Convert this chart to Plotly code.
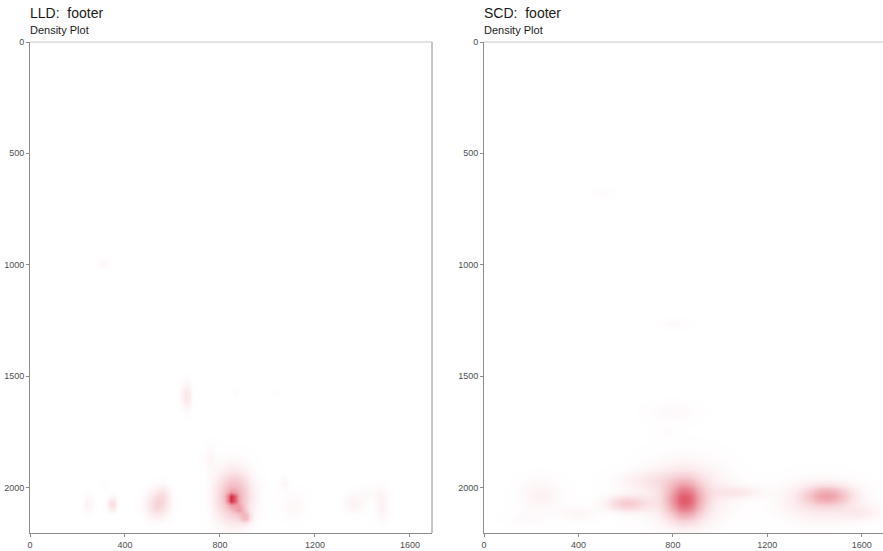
import numpy as np
import plotly.graph_objects as go

# ---- data: density clusters (centre x, centre y, relative peak, spread x, spread y)
lld_cx = [850, 856, 905, 880, 345, 535, 560, 244, 657, 758, 1069, 1109, 1361, 1481, 1430, 309, 309, 863, 1040]
lld_cy = [2050, 2040, 2132, 2095, 2075, 2075, 2030, 2075, 1590, 1870, 1981, 2080, 2072, 2082, 2027, 993, 1990, 1577, 1577]
lld_pk = [1.00, 0.50, 0.35, 0.30, 0.26, 0.26, 0.10, 0.08, 0.16, 0.06, 0.07, 0.05, 0.08, 0.09, 0.04, 0.06, 0.03, 0.03, 0.02]
lld_sx = [14, 48, 16, 14, 12, 32, 18, 14, 14, 18, 14, 35, 30, 18, 40, 15, 12, 12, 12]
lld_sy = [16, 75, 16, 14, 20, 40, 30, 28, 40, 40, 18, 40, 28, 50, 20, 15, 12, 12, 12]

scd_cx = [850, 850, 1455, 1420, 605, 237, 1070, 393, 1590, 800, 774, 715, 498, 803, 180]
scd_cy = [2057, 2030, 2035, 2062, 2071, 2035, 2020, 2116, 2112, 1662, 1752, 1967, 674, 1263, 2140]
scd_pk = [1.00, 0.28, 0.55, 0.20, 0.38, 0.10, 0.16, 0.07, 0.12, 0.05, 0.03, 0.12, 0.03, 0.04, 0.04]
scd_sx = [48, 110, 65, 110, 60, 60, 70, 50, 60, 70, 35, 100, 35, 40, 60]
scd_sy = [55, 90, 30, 60, 24, 50, 20, 25, 25, 30, 20, 30, 15, 15, 20]

x_ticks = [0, 400, 800, 1200, 1600]
y_ticks = [0, 500, 1000, 1500, 2000]
titles = ["LLD:\u00a0 footer", "SCD:\u00a0 footer"]
subtitle = "Density Plot"

X_MAX = 1693
Y_MAX = 2205


def density(cx, cy, pk, sx, sy, step_x, step_y):
    gx = np.arange(0, X_MAX + step_x, step_x)
    gy = np.arange(0, Y_MAX + step_y, step_y)
    XX, YY = np.meshgrid(gx, gy)
    z = np.zeros_like(XX, dtype=float)
    for a, b, p, s, t in zip(cx, cy, pk, sx, sy):
        z += p * np.exp(-0.5 * (((XX - a) / s) ** 2 + ((YY - b) / t) ** 2))
    return gx, gy, z / z.max()


cs = [[0, "#ffffff"], [1, "#d61f36"]]

fig = go.Figure()
gx, gy, z = density(lld_cx, lld_cy, lld_pk, lld_sx, lld_sy, 16, 20)
fig.add_trace(go.Heatmap(x=gx, y=gy, z=z, colorscale=cs, zmin=0, zmax=1.05,
                         zsmooth="best", showscale=False, xaxis="x", yaxis="y",
                         hoverinfo="skip"))
gx2, gy2, z2 = density(scd_cx, scd_cy, scd_pk, scd_sx, scd_sy, 12, 12)
fig.add_trace(go.Heatmap(x=gx2, y=gy2, z=z2, colorscale=cs, zmin=0, zmax=1.35,
                         zsmooth="best", showscale=False, xaxis="x2", yaxis="y2",
                         hoverinfo="skip"))

W, H = 883, 551
L1, R1 = 30 / W, 432 / W
L2, R2 = 484 / W, 1.0
tickfont = dict(family="Liberation Sans, Arial, sans-serif", size=9, color="#4d4d4d")
axis_common = dict(showgrid=False, zeroline=False, showline=True, linecolor="#8c8c8c",
                   linewidth=1, ticks="outside", ticklen=3, tickcolor="#8c8c8c",
                   tickfont=tickfont, automargin=False)

fig.update_layout(
    width=W, height=H,
    margin=dict(l=0, r=0, t=42, b=18),
    paper_bgcolor="white", plot_bgcolor="white",
    xaxis=dict(domain=[L1, R1], range=[0, X_MAX], tickvals=x_ticks, anchor="y", **axis_common),
    yaxis=dict(domain=[0, 1], range=[Y_MAX, 0], tickvals=y_ticks, anchor="x", **axis_common),
    xaxis2=dict(domain=[L2, R2], range=[0, 1690], tickvals=x_ticks, anchor="y2", **axis_common),
    yaxis2=dict(domain=[0, 1], range=[Y_MAX, 0], tickvals=y_ticks, anchor="x2", **axis_common),
    showlegend=False,
)

# panel top borders and left panel right border
fig.add_shape(type="line", xref="paper", yref="paper", x0=L1, x1=R1, y0=1, y1=1,
              line=dict(color="#c8c8c8", width=1))
fig.add_shape(type="line", xref="paper", yref="paper", x0=R1, x1=R1, y0=0, y1=1,
              line=dict(color="#8c8c8c", width=1))
fig.add_shape(type="line", xref="paper", yref="paper", x0=L2, x1=R2, y0=1, y1=1,
              line=dict(color="#c8c8c8", width=1))

plot_h = H - 42 - 18
for xl, t in zip([L1, L2], titles):
    xa = xl - 2.5 / W
    fig.add_annotation(text=t, xref="paper", yref="paper", x=xa, y=(H - 18 - 13) / plot_h,
                       xanchor="left", yanchor="middle", showarrow=False,
                       font=dict(family="Liberation Sans, Arial, sans-serif", size=14, color="#1a1a1a"))
    fig.add_annotation(text=subtitle, xref="paper", yref="paper", x=xa, y=(H - 18 - 30) / plot_h,
                       xanchor="left", yanchor="middle", showarrow=False,
                       font=dict(family="Liberation Sans, Arial, sans-serif", size=11, color="#1a1a1a"))

fig.write_html("out.html", config={"displayModeBar": False},
               post_script="document.body.style.margin='0';document.body.style.overflow='hidden';")
